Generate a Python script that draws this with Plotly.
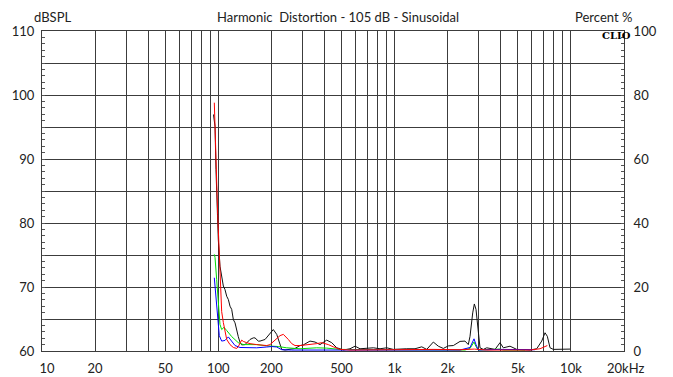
import plotly.graph_objects as go

# Harmonic distortion curves, frequency in Hz, level in percent (right axis)
freq_black = [93.9, 95.8, 97.0, 100, 102.2, 104.5, 106.8, 109.1, 111.6, 114.0, 116.5, 119.1,
              121.7, 124.4, 127.2, 129.8, 132.8, 135.7, 141.7, 151.3, 157.9, 161.5, 168.6,
              172.4, 184.1, 192.2, 196.5, 205.1, 214.4, 223.9, 228.9, 239.0, 260.8, 272.3,
              290.7, 303.4, 331.2, 353.6, 377.5, 412.0, 439.8, 469.5, 490.2, 511.8, 558.5,
              596.4, 636.5, 757.3, 826.4, 902.1, 983, 1073, 1171, 1305, 1425, 1521, 1658,
              1770, 1889, 2017, 2153, 2350, 2508, 2618, 2677, 2773, 2832, 2895, 2983, 3050,
              3185, 3330, 3712, 3961, 4136, 4514, 4928, 5861, 6397, 6830, 7131, 7347, 7613,
              7948, 9883]
pct_black = [73.9, 70.2, 56.7, 34.8, 26.5, 23.9, 20.3, 19.2, 17.1, 16.1, 14.0, 13.0,
             9.8, 8.8, 6.1, 4.5, 2.7, 1.9, 2.0, 3.6, 4.1, 4.1, 3.1,
             3.1, 3.6, 4.8, 5.7, 6.7, 5.2, 1.7, 0.5, 0.3, 0.5, 0.8,
             1.7, 1.9, 3.1, 2.8, 2.0, 3.4, 2.6, 1.0, 0.7, 0.3, 0.7,
             1.5, 0.7, 1.0, 0.7, 1.0, 0.5, 0.7, 0.7, 0.7, 1.3, 0.5, 2.8,
             1.5, 0.8, 1.6, 1.7, 3.0, 3.1, 2.0, 4.6, 11.9, 14.7, 13.0, 5.7, 1.0,
             0.5, 1.0, 0.5, 2.6, 1.0, 1.5, 0.5, 0.3, 0.7, 3.1, 5.7, 4.6, 1.0,
             0.5, 0.6]

freq_red = [94.9, 96.4, 97.9, 99.2, 100, 101.3, 103.2, 104.5, 106.8, 109.1, 111.6, 116.5,
            121.7, 127.2, 129.8, 135.7, 138.6, 144.9, 151.3, 165.1, 179.3, 188.2, 196.5,
            205.1, 214.4, 223.9, 233.8, 244.3, 249.5, 260.8, 272.3, 290.7, 317.2, 361.5,
            385.9, 420.7, 449.1, 490.2, 558.5, 757, 1073, 1658, 2350, 2832, 3330, 4514,
            5861, 6680, 7131, 7347]
pct_red = [77.6, 63.0, 50.5, 42.7, 38.0, 30.2, 17.1, 12.3, 8.9, 6.7, 3.6, 2.0,
           1.1, 0.8, 1.4, 3.4, 3.0, 2.6, 2.3, 2.0, 1.9, 1.7, 2.0,
           3.0, 3.9, 4.8, 5.2, 4.2, 3.6, 2.3, 1.7, 1.7, 1.9, 2.3,
           2.6, 2.0, 1.3, 0.5, 0.3, 0.4, 0.4, 0.5, 0.4, 0.6, 0.3, 0.4,
           0.3, 0.7, 1.4, 1.7]

freq_green = [94.9, 95.8, 97.9, 100, 102.2, 104.5, 107.7, 111.6, 119.1, 129.8, 138.6, 165.1,
              188.2, 218.9, 244.3, 290.7, 361.5, 412, 490.2, 757, 1658, 2508, 2677, 2821,
              2895, 2983, 3961, 4136, 5491]
pct_green = [30.2, 29.2, 22.3, 14.0, 8.3, 6.7, 7.4, 6.4, 4.5, 2.6, 2.0, 2.0,
             1.6, 1.4, 1.0, 0.7, 1.0, 0.9, 0.5, 0.4, 0.4, 0.3, 0.8, 2.8,
             1.4, 0.3, 0.6, 0.3, 0.3]

freq_blue = [94.9, 97.9, 99.2, 101.3, 104.5, 109.1, 114.0, 119.1, 124.4, 132.8, 165.1, 188.2,
             200.9, 214.4, 228.9, 260.8, 377.5, 757, 2350, 2677, 2821, 2895, 2983, 3961,
             4928, 6257]
pct_blue = [22.9, 15.1, 10.5, 4.8, 3.1, 3.3, 4.4, 3.0, 1.7, 1.1, 1.0, 1.25,
            1.4, 1.25, 0.4, 0.3, 0.3, 0.3, 0.3, 1.1, 3.8, 2.0, 0.3, 0.5,
            0.5, 0.4]

# Axis ticks
x_tickvals = [10, 20, 30, 40, 50, 60, 70, 80, 90,
              100, 200, 300, 400, 500, 600, 700, 800, 900,
              1000, 2000, 3000, 4000, 5000, 6000, 7000, 8000, 9000,
              10000, 20000]
x_ticktext = ["\u00a0\u00a0\u00a010", "20", "", "", "50", "", "", "", "",
              "100", "200", "", "", "500", "", "", "", "",
              "1k", "2k", "", "", "5k", "", "", "", "",
              "10k", "\u00a020kHz"]
db_range = [60, 110]
db_tickvals = [60, 65, 70, 75, 80, 85, 90, 95, 100, 105, 110]
db_ticktext = ["60", "", "70", "", "80", "", "90", "", "100", "", "110"]
pct_tickvals = [0, 20, 40, 60, 80, 100]

FONT = "Lato"
TXT = "#222222"
GRID = "#3c3c3c"

fig = go.Figure()
# invisible trace so the dBSPL axis is laid out
fig.add_trace(go.Scatter(x=[10, 20000], y=db_range, mode="lines", yaxis="y",
                         line=dict(width=0), opacity=0, showlegend=False,
                         hoverinfo="skip"))
traces = [
    (freq_black, pct_black, "#111111"),
    (freq_green, pct_green, "#00dd00"),
    (freq_blue, pct_blue, "#0000ff"),
    (freq_red, pct_red, "#ff0000"),
]
for fx, py, col in traces:
    fig.add_trace(go.Scatter(x=fx, y=py, mode="lines", yaxis="y2",
                             line=dict(color=col, width=1), showlegend=False,
                             hoverinfo="skip"))

fig.update_layout(
    width=673, height=377,
    margin=dict(l=42, r=49, t=31, b=26),
    paper_bgcolor="white", plot_bgcolor="white",
    font=dict(family=FONT, size=13, color=TXT),
    xaxis=dict(
        type="log", range=[1, 4.30103], automargin=False,
        tickmode="array", tickvals=x_tickvals, ticktext=x_ticktext,
        showgrid=True, gridcolor=GRID, gridwidth=1,
        ticks="", ticklabelstandoff=5,
        showline=True, linecolor=GRID, linewidth=1, mirror=True,
        zeroline=False,
    ),
    yaxis=dict(
        range=db_range, automargin=False,
        tickmode="array", tickvals=db_tickvals, ticktext=db_ticktext,
        showgrid=True, gridcolor=GRID, gridwidth=1,
        ticks="inside", ticklen=3, tickcolor="#555555",
        minor=dict(tickmode="linear", tick0=60, dtick=1, ticks="inside",
                   ticklen=3, tickcolor="#555555", showgrid=False),
        ticklabelstandoff=4,
        showline=True, linecolor=GRID, linewidth=1, mirror=True,
        zeroline=False,
    ),
    yaxis2=dict(
        range=[0, 100], overlaying="y", side="right", automargin=False,
        tickmode="array", tickvals=pct_tickvals,
        showgrid=False, zeroline=False,
        ticks="inside", ticklen=3, tickcolor="#555555",
        minor=dict(tickmode="linear", tick0=0, dtick=2, ticks="inside",
                   ticklen=3, tickcolor="#555555", showgrid=False),
        ticklabelstandoff=6,
        showline=True, linecolor=GRID, linewidth=1,
    ),
    annotations=[
        dict(text="Harmonic  Distortion - 105 dB - Sinusoidal", xref="paper", yref="paper",
             x=0.509, y=1, yshift=14, showarrow=False, xanchor="center", yanchor="middle",
             font=dict(size=13, color=TXT, family=FONT)),
        dict(text="dBSPL", xref="paper", yref="paper", x=0, y=1, xshift=-10, yshift=14,
             showarrow=False, xanchor="left", yanchor="middle",
             font=dict(size=13, color=TXT, family=FONT)),
        dict(text="Percent %", xref="paper", yref="paper", x=1, y=1, xshift=10, yshift=14,
             showarrow=False, xanchor="right", yanchor="middle",
             font=dict(size=13, color=TXT, family=FONT)),
        dict(text="<b>CLIO</b>", xref="paper", yref="paper", x=1, y=1, xshift=9, yshift=-4,
             showarrow=False, xanchor="right", yanchor="middle",
             font=dict(size=10, color="#000000", family="DejaVu Serif")),
    ],
)

fig.write_html("out.html")
